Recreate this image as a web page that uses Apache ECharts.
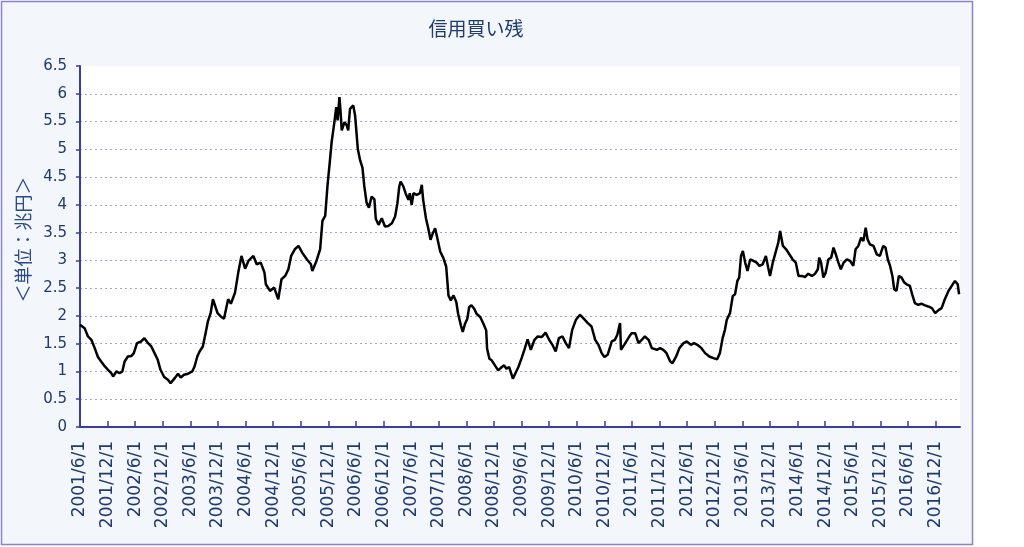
<!DOCTYPE html>
<html>
<head>
<meta charset="utf-8">
<script src="https://cdn.jsdelivr.net/npm/echarts@6/dist/echarts.min.js"></script>
<style>
html,body{margin:0;padding:0;background:#fff;}
#chart{width:1024px;height:547px;}
</style>
</head>
<body>
<div id="chart"></div>
<script>
const titleText = '信用買い残';
const yAxisName = '＜単位：兆円＞';
const xTickLabels = ['2001/6/1','2001/12/1','2002/6/1','2002/12/1','2003/6/1','2003/12/1','2004/6/1','2004/12/1','2005/6/1','2005/12/1','2006/6/1','2006/12/1','2007/6/1','2007/12/1','2008/6/1','2008/12/1','2009/6/1','2009/12/1','2010/6/1','2010/12/1','2011/6/1','2011/12/1','2012/6/1','2012/12/1','2013/6/1','2013/12/1','2014/6/1','2014/12/1','2015/6/1','2015/12/1','2016/6/1','2016/12/1'];
const xEnd = '2017/5/10';
const dates = ['2001/6/1','2001/7/1','2001/7/23','2001/8/15','2001/9/7','2001/9/28','2001/10/19','2001/11/13','2001/12/4','2001/12/25','2002/1/7','2002/1/28','2002/2/19','2002/3/7','2002/3/22','2002/4/13','2002/5/7','2002/5/22','2002/6/13','2002/7/10','2002/8/1','2002/8/25','2002/9/16','2002/10/7','2002/10/28','2002/11/16','2002/12/10','2003/1/4','2003/1/22','2003/2/19','2003/3/10','2003/3/28','2003/4/19','2003/5/16','2003/6/13','2003/6/28','2003/7/16','2003/8/1','2003/8/22','2003/9/10','2003/9/25','2003/10/13','2003/10/28','2003/11/10','2003/11/28','2003/12/19','2004/1/10','2004/2/7','2004/2/25','2004/3/22','2004/4/13','2004/5/4','2004/5/28','2004/6/19','2004/7/22','2004/8/13','2004/9/10','2004/10/4','2004/10/13','2004/11/10','2004/12/7','2005/1/4','2005/1/25','2005/2/19','2005/3/10','2005/3/28','2005/4/22','2005/5/16','2005/6/10','2005/7/10','2005/8/7','2005/8/16','2005/9/13','2005/10/7','2005/10/22','2005/11/10','2005/11/25','2005/12/10','2005/12/22','2006/1/10','2006/1/22','2006/2/1','2006/2/13','2006/2/19','2006/2/28','2006/3/16','2006/4/1','2006/4/10','2006/4/22','2006/5/13','2006/5/25','2006/6/13','2006/6/28','2006/7/13','2006/7/25','2006/8/10','2006/8/25','2006/9/13','2006/10/1','2006/10/10','2006/10/28','2006/11/19','2006/12/10','2007/1/1','2007/1/25','2007/2/16','2007/3/1','2007/3/13','2007/3/22','2007/4/10','2007/4/28','2007/5/13','2007/5/22','2007/6/4','2007/6/16','2007/7/7','2007/7/28','2007/8/10','2007/8/19','2007/9/7','2007/9/22','2007/10/7','2007/10/22','2007/11/7','2007/11/19','2007/12/10','2008/1/1','2008/1/19','2008/1/28','2008/2/4','2008/2/19','2008/3/7','2008/3/25','2008/4/7','2008/4/25','2008/5/7','2008/5/22','2008/6/7','2008/6/19','2008/7/4','2008/7/22','2008/8/7','2008/9/1','2008/9/22','2008/10/10','2008/10/16','2008/11/1','2008/11/16','2008/12/7','2008/12/28','2009/1/22','2009/2/7','2009/2/22','2009/3/10','2009/4/4','2009/4/19','2009/5/10','2009/6/1','2009/6/19','2009/7/10','2009/8/1','2009/8/25','2009/9/16','2009/10/13','2009/11/7','2009/12/1','2009/12/22','2010/1/13','2010/2/4','2010/2/28','2010/3/19','2010/4/10','2010/5/1','2010/5/25','2010/6/22','2010/7/13','2010/8/13','2010/9/7','2010/10/1','2010/10/22','2010/11/13','2010/12/1','2010/12/22','2011/1/19','2011/2/10','2011/2/25','2011/3/13','2011/3/19','2011/4/10','2011/5/7','2011/5/28','2011/6/22','2011/7/13','2011/8/4','2011/8/25','2011/9/19','2011/10/10','2011/11/13','2011/12/4','2011/12/25','2012/1/16','2012/2/10','2012/2/25','2012/3/19','2012/4/10','2012/5/7','2012/5/28','2012/6/25','2012/7/16','2012/8/7','2012/9/4','2012/9/28','2012/10/25','2012/11/22','2012/12/16','2013/1/4','2013/1/22','2013/2/7','2013/2/19','2013/3/10','2013/3/28','2013/4/13','2013/4/28','2013/5/10','2013/5/22','2013/6/4','2013/6/19','2013/7/4','2013/7/22','2013/8/13','2013/9/4','2013/9/22','2013/10/13','2013/11/4','2013/11/19','2013/12/1','2013/12/19','2014/1/10','2014/1/25','2014/2/7','2014/2/25','2014/3/16','2014/4/7','2014/4/28','2014/5/19','2014/6/7','2014/6/28','2014/7/19','2014/8/10','2014/9/4','2014/9/25','2014/10/13','2014/10/22','2014/11/4','2014/11/19','2014/12/4','2014/12/22','2015/1/10','2015/1/25','2015/2/10','2015/2/27','2015/3/13','2015/4/1','2015/4/22','2015/5/13','2015/6/4','2015/6/19','2015/7/7','2015/7/25','2015/8/10','2015/8/25','2015/9/7','2015/9/22','2015/10/16','2015/11/7','2015/11/28','2015/12/19','2016/1/4','2016/1/19','2016/2/4','2016/2/19','2016/3/1','2016/3/16','2016/4/1','2016/4/19','2016/5/7','2016/5/22','2016/6/13','2016/6/28','2016/7/16','2016/8/7','2016/8/28','2016/9/22','2016/10/13','2016/11/7','2016/11/28','2016/12/22','2017/1/10','2017/2/1','2017/2/25','2017/3/16','2017/4/7','2017/4/25','2017/5/4'];
const values = [1.84,1.78,1.63,1.57,1.42,1.26,1.18,1.09,1.03,0.97,0.91,1.00,0.97,1.00,1.18,1.27,1.28,1.33,1.51,1.54,1.60,1.51,1.45,1.33,1.21,1.03,0.90,0.85,0.79,0.88,0.96,0.89,0.94,0.96,1.00,1.09,1.27,1.36,1.45,1.69,1.90,2.05,2.30,2.33,2.05,1.99,1.95,2.30,2.22,2.42,2.78,3.08,2.85,2.99,3.08,2.93,2.96,2.78,2.57,2.45,2.51,2.30,2.66,2.72,2.84,3.08,3.20,3.26,3.14,3.02,2.93,2.81,2.99,3.20,3.71,3.80,4.34,4.77,5.13,5.49,5.76,5.52,5.94,5.73,5.34,5.49,5.43,5.34,5.73,5.79,5.61,5.00,4.80,4.67,4.34,4.04,3.95,4.15,4.10,3.75,3.64,3.76,3.61,3.62,3.67,3.79,4.03,4.33,4.42,4.33,4.18,4.09,4.21,4.00,4.21,4.18,4.21,4.36,4.09,3.76,3.58,3.37,3.49,3.58,3.43,3.16,3.04,2.89,2.58,2.37,2.28,2.37,2.25,2.04,1.83,1.71,1.86,1.95,2.16,2.19,2.13,2.04,1.98,1.86,1.74,1.41,1.23,1.20,1.11,1.02,1.08,1.11,1.05,1.08,0.87,0.96,1.08,1.24,1.39,1.58,1.39,1.57,1.63,1.62,1.70,1.57,1.48,1.36,1.60,1.63,1.51,1.42,1.75,1.93,2.02,1.96,1.87,1.81,1.57,1.48,1.33,1.26,1.30,1.54,1.57,1.66,1.87,1.39,1.48,1.60,1.69,1.69,1.51,1.57,1.63,1.57,1.42,1.39,1.42,1.39,1.33,1.18,1.15,1.27,1.42,1.51,1.54,1.48,1.51,1.48,1.42,1.33,1.27,1.24,1.22,1.33,1.60,1.75,1.93,2.05,2.36,2.39,2.63,2.69,3.08,3.17,2.96,2.81,3.02,2.99,2.96,2.90,2.93,3.08,2.87,2.72,2.96,3.17,3.32,3.53,3.26,3.20,3.11,3.02,2.96,2.72,2.72,2.70,2.76,2.72,2.76,2.84,3.05,2.96,2.69,2.78,3.02,3.05,3.23,3.11,2.96,2.84,2.96,3.02,2.99,2.90,3.20,3.26,3.41,3.35,3.59,3.38,3.29,3.26,3.11,3.08,3.26,3.23,3.02,2.90,2.72,2.48,2.45,2.72,2.69,2.60,2.57,2.54,2.39,2.23,2.20,2.22,2.19,2.17,2.14,2.05,2.11,2.14,2.30,2.45,2.54,2.63,2.57,2.39];

function toOffset(s) {
  const p = s.split('/').map(Number);
  return (p[0] - 2001) * 12 + (p[1] - 6) + (p[2] - 1) / 30;
}
const tickValues = xTickLabels.map(toOffset);
const seriesData = dates.map((d, i) => [toOffset(d), values[i]]);

const chart = echarts.init(document.getElementById('chart'), null, {renderer: 'canvas'});
const navy = '#1f3a6e';
const axisColor = '#3c3c9a';
const gridColor = '#a3a3dc';
chart.setOption({
  backgroundColor: '#ffffff',
  animation: false,
  graphic: [{
    type: 'rect', z: -10,
    shape: {x: 1.5, y: 1.5, width: 971, height: 543},
    style: {fill: '#f3f6fb', stroke: '#8585c8', lineWidth: 1.5}
  }],
  title: {
    text: titleText, left: 471, top: 14, textAlign: 'center',
    textStyle: {color: navy, fontSize: 19, fontWeight: 'normal', fontFamily: 'Noto Sans CJK JP'}
  },
  grid: {left: 80, right: 64, top: 66, bottom: 120, show: true, backgroundColor: '#ffffff', borderWidth: 0},
  xAxis: {
    type: 'value', min: 0, max: toOffset(xEnd), interval: 6,
    axisLine: {lineStyle: {color: axisColor, width: 2}},
    axisTick: {show: true, inside: true, length: 6, customValues: tickValues, lineStyle: {color: axisColor, width: 1.5}},
    axisLabel: {
      rotate: 90, margin: 14, customValues: tickValues,
      color: navy, fontSize: 17, fontFamily: 'DejaVu Sans',
      formatter: function (v) {
        let best = 0;
        for (let i = 0; i < tickValues.length; i++) if (Math.abs(tickValues[i] - v) < Math.abs(tickValues[best] - v)) best = i;
        return xTickLabels[best];
      }
    },
    splitLine: {show: false}
  },
  yAxis: {
    type: 'value', min: 0, max: 6.5, interval: 0.5,
    name: yAxisName, nameLocation: 'middle', nameGap: 48, nameRotate: 90,
    nameTextStyle: {color: '#2a4a8a', fontSize: 18, fontFamily: 'Noto Sans CJK JP', padding: [0, 0, 0, 14]},
    axisLine: {show: true, lineStyle: {color: axisColor, width: 2}},
    axisTick: {show: true, inside: false, length: 4, lineStyle: {color: axisColor, width: 1.5}},
    axisLabel: {color: navy, fontSize: 15, margin: 13, fontFamily: 'DejaVu Sans'},
    splitLine: {show: true, showMinLine: false, showMaxLine: false, lineStyle: {color: gridColor, type: [2, 3], width: 1}}
  },
  series: [{
    type: 'line', data: seriesData, showSymbol: false, symbol: 'none',
    lineStyle: {color: '#000000', width: 2.5}, z: 5
  }]
});
</script>
</body>
</html>
